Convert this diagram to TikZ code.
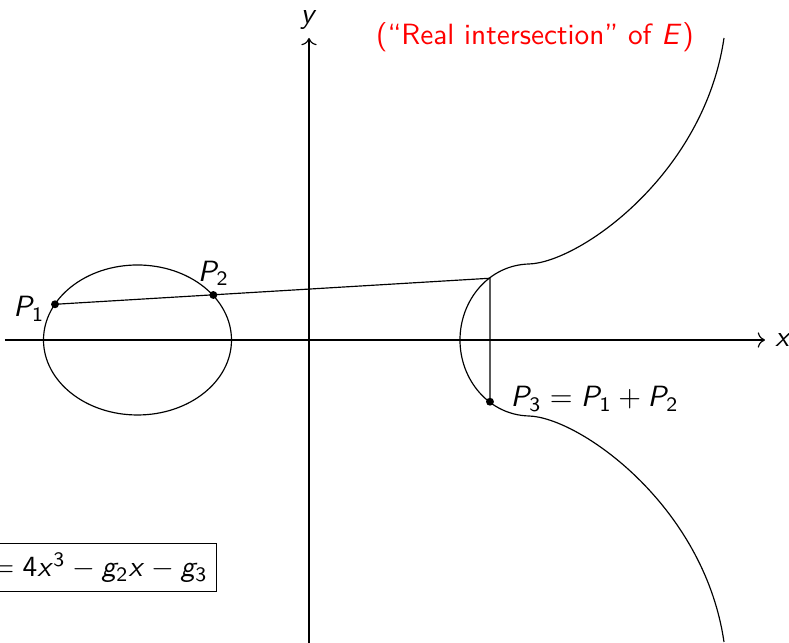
\documentclass[tikz,border=0pt]{standalone}
\usepackage{amsmath}
\renewcommand{\familydefault}{\sfdefault}
\usetikzlibrary{arrows.meta,positioning,calc}
% sans serif letters and digits in math
\DeclareSymbolFont{sfit}{OT1}{cmss}{m}{sl}
\DeclareSymbolFont{sfup}{OT1}{cmss}{m}{n}
\DeclareMathSymbol{P}{\mathalpha}{sfit}{`P}
\DeclareMathSymbol{E}{\mathalpha}{sfit}{`E}
\DeclareMathSymbol{x}{\mathalpha}{sfit}{`x}
\DeclareMathSymbol{y}{\mathalpha}{sfit}{`y}
\DeclareMathSymbol{g}{\mathalpha}{sfit}{`g}
\DeclareMathSymbol{1}{\mathalpha}{sfup}{`1}
\DeclareMathSymbol{2}{\mathalpha}{sfup}{`2}
\DeclareMathSymbol{3}{\mathalpha}{sfup}{`3}
\DeclareMathSymbol{4}{\mathalpha}{sfup}{`4}

\begin{document}
\begin{tikzpicture}[x=0.6cm,y=0.6cm,
    pt/.style={circle,fill,inner sep=0pt,minimum size=2.7pt},
    eqbox/.style={draw,anchor=east,inner sep=3pt}
]
\useasboundingbox (-6.18,-6.06) rectangle (9.6,6.8);
% axes
\coordinate (xs) at (-6.08,0);
\coordinate (xe) at (9.12,0);
\coordinate (ys) at (0,-6.3);
\coordinate (ye) at (0,6.04);
\draw[->] (xs) -- (xe) node[right] (xlab) {$x$};
\draw[->] (ys) -- (ye) node[above=-0.5pt] (ylab) {$y$};
% the curve
\draw (-3.43,0) ellipse (1.88 and 1.5);
\draw (8.3,6.04) .. controls (7.9,3.3) and (5.4,1.55) .. (4.4,1.52)
  .. controls (3.6,1.5) and (3.02,0.8) .. (3.02,0)
  .. controls (3.02,-0.8) and (3.6,-1.5) .. (4.4,-1.52)
  .. controls (5.4,-1.55) and (7.9,-3.3) .. (8.3,-6.04);
% chord and reflection
\coordinate (p1) at (-5.08,0.714);
\coordinate (p2) at (-1.913,0.9);
\coordinate (q) at (3.62,1.235);
\coordinate (p3) at (3.62,-1.235);
\draw (p1) -- (q) -- (p3);
\node[pt,label={[label distance=-1.5pt,yshift=-1.5pt]left:$P_1$}] (d1) at (p1) {};
\node[pt,label={[label distance=-2pt]above:$P_2$}] (d2) at (p2) {};
\node[pt,label={[label distance=2pt,yshift=1pt]right:$P_3 = P_1 + P_2$}] (d3) at (p3) {};
\node[red] (title) at (4.52,6.06) {(``Real intersection'' of $E$)};
\node[eqbox] (eq) at (-1.84,-4.55) {$y^2 = 4x^3 - g_2x - g_3$};
\end{tikzpicture}
\end{document}
